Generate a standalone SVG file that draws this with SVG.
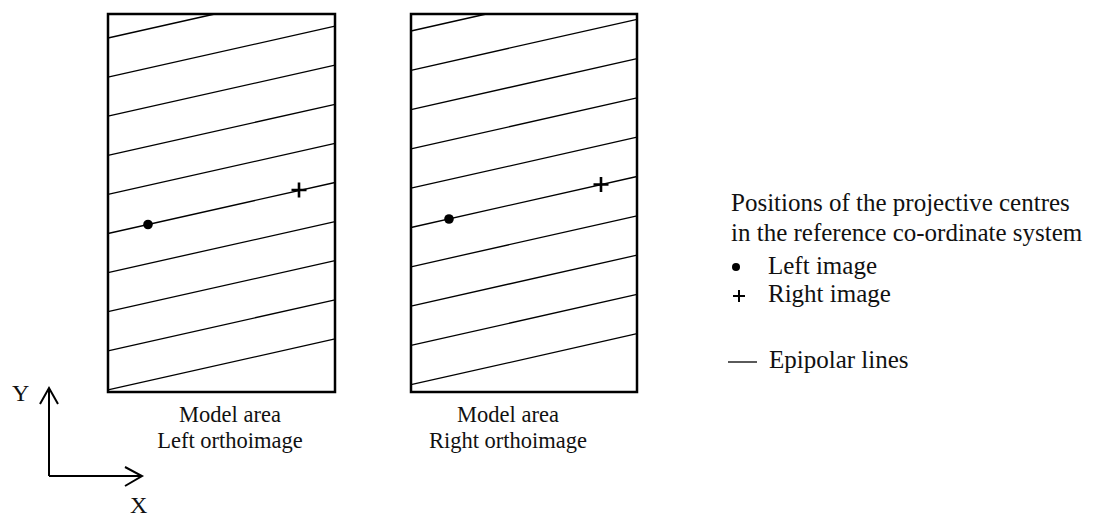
<svg xmlns="http://www.w3.org/2000/svg" width="1104" height="516" viewBox="0 0 1104 516">
<style>
.frame{fill:none;stroke:#000;stroke-width:2.5}
.ep{stroke:#000;stroke-width:1.3;fill:none}
.pt{fill:#000}
.plus{stroke:#000;stroke-width:2.6;fill:none}
.ax{stroke:#000;stroke-width:2;fill:none}
text{font-family:"Liberation Serif","Times New Roman",serif;fill:#111}
.lbl{font-size:22.5px;text-anchor:middle}
.leg{font-size:25px}
</style>
<rect width="1104" height="516" fill="#fff"/>
<g id="left-orthoimage">
<rect class="frame" x="108" y="14" width="227" height="378"/>
<g class="ep">
<line x1="108" y1="38" x2="214.8" y2="14"/>
<line x1="108" y1="77.1" x2="335" y2="26.1"/>
<line x1="108" y1="116.2" x2="335" y2="65.2"/>
<line x1="108" y1="155.3" x2="335" y2="104.3"/>
<line x1="108" y1="194.4" x2="335" y2="143.4"/>
<line x1="108" y1="233.5" x2="335" y2="182.5"/>
<line x1="108" y1="272.6" x2="335" y2="221.6"/>
<line x1="108" y1="311.7" x2="335" y2="260.7"/>
<line x1="108" y1="350.8" x2="335" y2="299.8"/>
<line x1="108" y1="389.9" x2="335" y2="338.9"/>
</g>
<circle class="pt" cx="148" cy="224.5" r="4.8"/>
<path class="plus" d="M291.5 190H306.5M299 182.5V197.5"/>
<text class="lbl" x="230" y="422">Model area</text>
<text class="lbl" x="230" y="448">Left orthoimage</text>
</g>
<g id="right-orthoimage">
<rect class="frame" x="411" y="14" width="226" height="378"/>
<g class="ep">
<line x1="411" y1="31" x2="486.3" y2="14"/>
<line x1="411" y1="70.3" x2="637" y2="19.3"/>
<line x1="411" y1="109.6" x2="637" y2="58.6"/>
<line x1="411" y1="148.9" x2="637" y2="97.9"/>
<line x1="411" y1="188.2" x2="637" y2="137.2"/>
<line x1="411" y1="227.5" x2="637" y2="176.5"/>
<line x1="411" y1="266.8" x2="637" y2="215.8"/>
<line x1="411" y1="306.1" x2="637" y2="255.1"/>
<line x1="411" y1="345.4" x2="637" y2="294.4"/>
<line x1="411" y1="384.7" x2="637" y2="333.7"/>
</g>
<circle class="pt" cx="449" cy="219" r="4.8"/>
<path class="plus" d="M593.5 184.5H608.5M601 177V192"/>
<text class="lbl" x="508" y="422">Model area</text>
<text class="lbl" x="508" y="448">Right orthoimage</text>
</g>
<g id="axes">
<path class="ax" d="M49 476V388M49 476H142"/>
<path class="ax" d="M40 404L49 388L58 404"/>
<path class="ax" d="M125 467L142 476L125 486"/>
<text class="leg" x="12" y="401" style="font-size:24px">Y</text>
<text class="leg" x="130" y="513" style="font-size:24px">X</text>
</g>
<g id="legend">
<text class="leg" x="731" y="211">Positions of the projective centres</text>
<text class="leg" x="731" y="241">in the reference co-ordinate system</text>
<circle class="pt" cx="736" cy="267" r="4"/>
<text class="leg" x="768" y="274">Left image</text>
<path class="plus" d="M733 296H745M739 290V302" style="stroke-width:2"/>
<text class="leg" x="768" y="302">Right image</text>
<line class="ep" x1="728" y1="362" x2="757" y2="362"/>
<text class="leg" x="769" y="368">Epipolar lines</text>
</g>
</svg>
